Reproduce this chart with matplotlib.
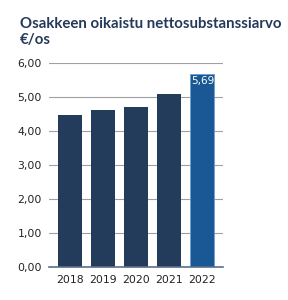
import matplotlib.pyplot as plt

years = ['2018', '2019', '2020', '2021', '2022']
values = [4.46, 4.61, 4.71, 5.09, 5.69]
colors = ['#243c5c', '#243c5c', '#243c5c', '#243c5c', '#1a5895']
title = 'Osakkeen oikaistu nettosubstanssiarvo\n€/os'

plt.rcParams['font.family'] = ['DejaVu Sans']

fig = plt.figure(figsize=(2.88, 3.0), dpi=100)
ax = fig.add_axes([49 / 288, 1 - 267 / 300, 174 / 288, 204 / 300])

x = range(len(years))
bars = ax.bar(x, values, width=0.72, color=colors, zorder=3)
bars[-1].set_edgecolor('#6f9fd0')
bars[-1].set_linewidth(0.6)

ax.text(x[-1], values[-1] - 0.06, f'{values[-1]:.2f}'.replace('.', ','),
        ha='center', va='top', color='white', fontsize=7.5, zorder=4)

ax.set_ylim(0, 6)
ax.set_xlim(-0.62, 4.62)
ax.set_yticks([0, 1, 2, 3, 4, 5, 6])
ax.set_yticklabels([f'{v:.2f}'.replace('.', ',') for v in range(7)])
ax.set_xticks(list(x))
ax.set_xticklabels(years)
ax.tick_params(axis='both', length=0, labelsize=7.8, colors='#222222')
ax.tick_params(axis='y', pad=5)
ax.tick_params(axis='x', pad=6)
ax.grid(axis='y', color='#a0a0a0', linewidth=0.8, zorder=0)
for s in ['top', 'right', 'left']:
    ax.spines[s].set_visible(False)
ax.spines['bottom'].set_color('#5a6f8a')
ax.spines['bottom'].set_linewidth(1.2)
ax.spines['bottom'].set_zorder(4)

fig.text(20 / 288, 1 - 17 / 300, title, ha='left', va='top', fontsize=10.8,
         fontweight='bold', color='#243a5a', linespacing=1.2,
         family=['Lato', 'DejaVu Sans'])

fig.savefig('out.png', dpi=100)
